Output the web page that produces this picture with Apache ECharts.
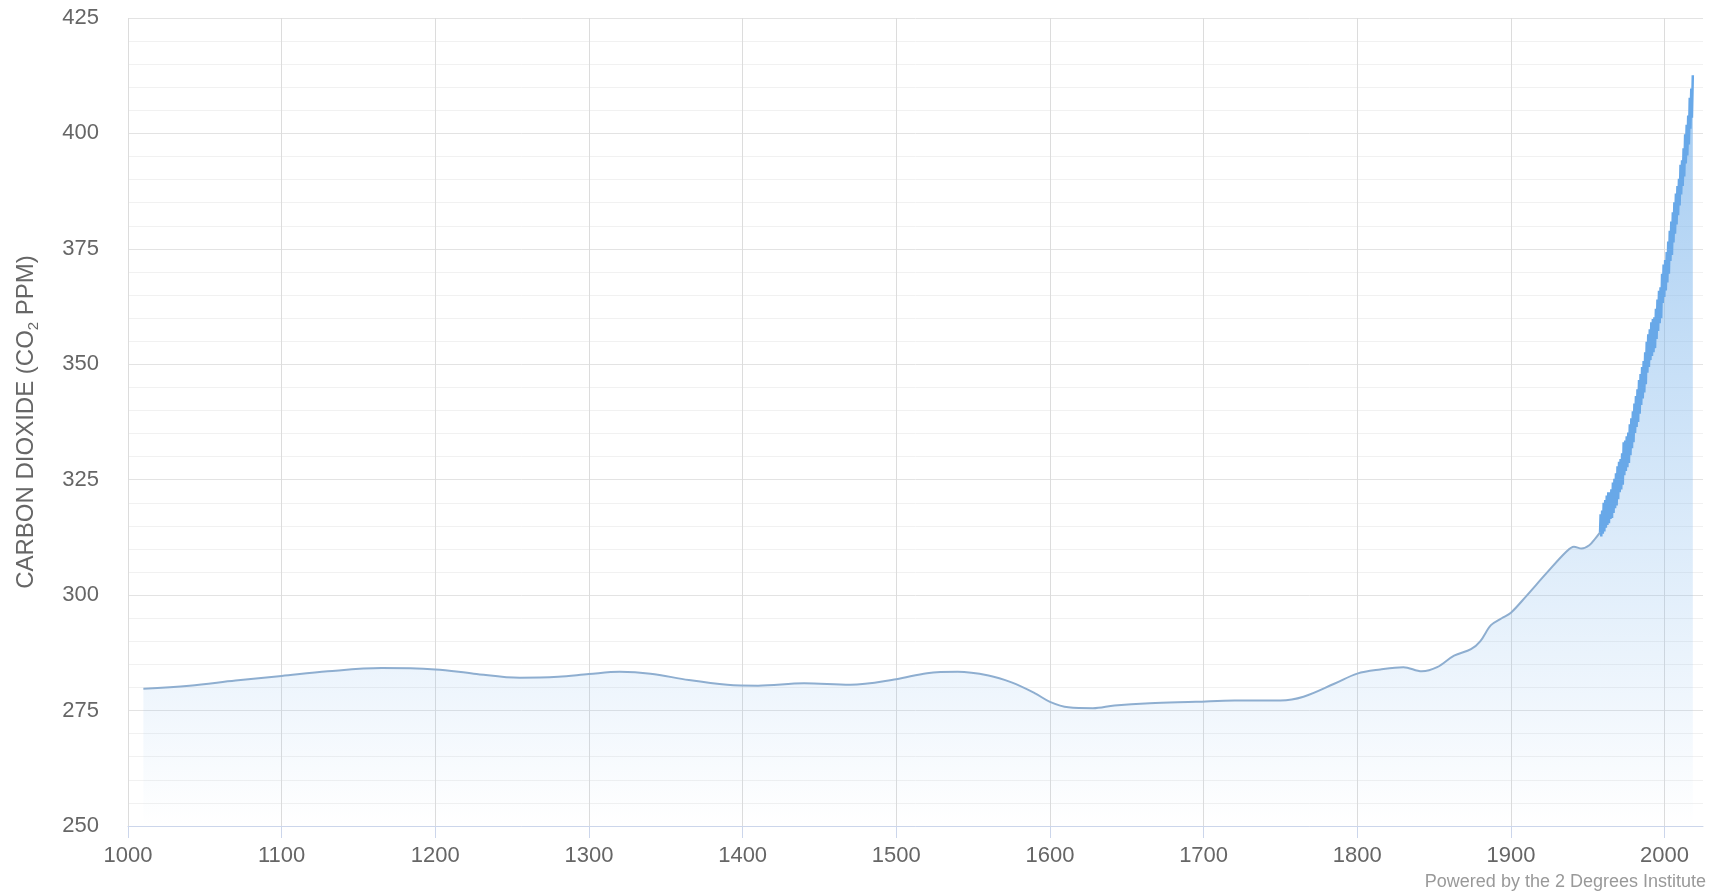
<!DOCTYPE html>
<html>
<head>
<meta charset="utf-8">
<title>Carbon dioxide</title>
<script src="https://cdn.jsdelivr.net/npm/echarts@6/dist/echarts.min.js"></script>
<style>
  html, body { margin: 0; padding: 0; background: #fff; }
  #chart { width: 1718px; height: 894px; }
</style>
</head>
<body>
<div id="chart"></div>
<script>
// ice core record (smoothed), year -> ppm
var iceYears = [1010, 1040, 1070, 1100, 1130, 1165, 1200, 1225, 1255, 1280, 1300, 1320, 1340, 1365,
  1390, 1410, 1440, 1470, 1500, 1520, 1540, 1560, 1575, 1590, 1600, 1612, 1628, 1642, 1665, 1695,
  1720, 1750, 1765, 1785, 1800, 1815, 1830, 1842, 1852, 1863, 1874, 1880, 1887, 1894, 1900, 1910,
  1923, 1936, 1941, 1946, 1951, 1955, 1958];
var iceValues = [279.7, 280.4, 281.5, 282.5, 283.5, 284.2, 283.9, 283.0, 282.1, 282.3, 282.9, 283.4, 283.0, 281.6,
  280.6, 280.4, 280.9, 280.6, 281.8, 283.1, 283.4, 282.6, 281.1, 278.8, 276.9, 275.7, 275.5, 276.1, 276.6, 276.9,
  277.2, 277.2, 278.0, 280.8, 283.0, 283.9, 284.4, 283.5, 284.4, 286.9, 288.3, 290.0, 293.5, 295.0, 296.2, 299.8,
  304.7, 309.4, 310.5, 310.1, 310.8, 312.3, 313.6];

// Mauna Loa: seasonal high (May) and low (autumn) for each year from 1958
var mloFirstYear = 1958;
var mloPeaks = [317.5, 318.3, 320.0, 320.6, 321.6, 322.3, 322.3, 322.9, 324.4, 325.2,
  326.4, 327.9, 328.9, 329.5, 330.7, 333.1, 333.5, 334.4, 335.2, 337.0,
  338.3, 339.8, 341.5, 343.1, 344.6, 346.6, 347.9, 349.4, 350.7, 352.6,
  354.9, 356.5, 357.6, 359.1, 359.8, 360.2, 362.0, 364.0, 365.9, 366.7,
  369.6, 371.6, 372.6, 374.3, 376.6, 378.9, 380.9, 382.9, 385.1, 387.0,
  388.6, 390.2, 393.2, 394.2, 396.8, 399.8, 401.9, 403.9, 407.7, 409.7,
  412.6];
var mloTroughs = [312.7, 313.3, 313.8, 314.6, 315.2, 315.6, 316.5, 316.7, 317.8, 318.8,
  319.4, 320.8, 322.3, 322.9, 323.9, 326.0, 326.9, 327.7, 328.6, 330.3,
  331.8, 333.1, 335.1, 336.4, 337.5, 339.3, 341.2, 342.6, 343.9, 345.7,
  348.2, 349.4, 350.9, 351.8, 352.6, 353.5, 355.5, 357.2, 358.9, 360.0,
  363.3, 364.6, 366.0, 367.7, 369.6, 372.4, 373.7, 376.4, 378.3, 380.3,
  382.3, 384.4, 386.8, 388.6, 390.7, 393.5, 395.2, 397.6, 401.0, 403.4];

var xTicks = [1000, 1100, 1200, 1300, 1400, 1500, 1600, 1700, 1800, 1900, 2000];
var xMin = 1000, xMax = 2025;
var yMin = 250, yMax = 425, yStep = 25;

var iceData = iceYears.map(function (y, i) { return [y, iceValues[i]]; });
// the instrument series picks up where the ice core ends, so the two areas join
var mloData = [iceData[iceData.length - 1]];
for (var i = 0; i < mloPeaks.length; i++) {
  mloData.push([mloFirstYear + i + 0.37, mloPeaks[i]]);
  if (i < mloTroughs.length) mloData.push([mloFirstYear + i + 0.79, mloTroughs[i]]);
}

var font = '"Liberation Sans", Arial, Helvetica, sans-serif';
var chart = echarts.init(document.getElementById('chart'), null, { renderer: 'canvas' });

// vertical grid lines: one per labelled tick, hide the one at the axis end
var vColors = xTicks.map(function () { return '#dcdcdc'; });
vColors.push('rgba(0,0,0,0)');

function fill(top, bottom) {
  return {
    type: 'linear', x: 0, y: top, x2: 0, y2: bottom, global: true,
    colorStops: [
      { offset: 0, color: 'rgba(124,181,236,1)' },
      { offset: 1, color: 'rgba(124,181,236,0)' }
    ]
  };
}

var option = {
  animation: false,
  backgroundColor: '#ffffff',
  grid: { left: 128, right: 15, top: 18, bottom: 68, outerBoundsMode: 'none' },
  xAxis: {
    type: 'value',
    min: xMin,
    max: xMax,
    interval: 100,
    axisLine: { show: true, lineStyle: { color: '#ccd6eb', width: 1 } },
    axisTick: { show: true, length: 12, customValues: xTicks, lineStyle: { color: '#ccd6eb' } },
    axisLabel: {
      customValues: xTicks,
      margin: 19,
      color: '#666666',
      fontSize: 22,
      fontFamily: font,
      formatter: function (v) { return String(v); }
    },
    splitLine: { show: true, lineStyle: { color: vColors, width: 1 } }
  },
  yAxis: {
    type: 'value',
    min: yMin,
    max: yMax,
    interval: yStep,
    axisLine: { show: false },
    axisTick: { show: false },
    axisLabel: { margin: 29, color: '#666666', fontSize: 22, fontFamily: font },
    splitLine: { show: true, lineStyle: { color: '#e3e3e3', width: 1 } },
    minorTick: { show: false, splitNumber: 5 },
    minorSplitLine: { show: true, lineStyle: { color: '#f1f1f1', width: 1 } },
    name: '{a|CARBON DIOXIDE (CO}{s|2}{a| PPM)}',
    nameLocation: 'middle',
    nameRotate: 90,
    nameGap: 88,
    nameTextStyle: {
      rich: {
        a: { fontSize: 24, color: '#666666', fontFamily: font, lineHeight: 27 },
        s: { fontSize: 15, color: '#666666', fontFamily: font, lineHeight: 16, padding: [14, 0, 0, 0] }
      }
    }
  },
  graphic: [{
    type: 'text',
    right: 12,
    bottom: 3,
    style: { text: 'Powered by the 2 Degrees Institute', fill: '#999999', font: '18px ' + font }
  }],
  series: [
    {
      name: 'Ice core',
      type: 'line',
      data: iceData,
      smooth: 0.35,
      showSymbol: false,
      silent: true,
      lineStyle: { color: '#8eaed0', width: 2 },
      areaStyle: { origin: 'start', color: fill(74, 826) },
      z: 2
    },
    {
      name: 'Mauna Loa',
      type: 'line',
      data: mloData,
      showSymbol: false,
      silent: true,
      lineStyle: { color: '#68a8e8', width: 2.5 },
      areaStyle: { origin: 'start', color: fill(74, 826) },
      z: 3
    }
  ]
};
chart.setOption(option);

// tie the gradient to the drawn scale: full colour at the highest reading, none on the axis
var topPx = chart.convertToPixel({ gridIndex: 0 }, [2018, Math.max.apply(null, mloPeaks)])[1];
var basePx = chart.convertToPixel({ gridIndex: 0 }, [2018, yMin])[1];
chart.setOption({
  series: [
    { areaStyle: { origin: 'start', color: fill(topPx, basePx) } },
    { areaStyle: { origin: 'start', color: fill(topPx, basePx) } }
  ]
});
</script>
</body>
</html>
